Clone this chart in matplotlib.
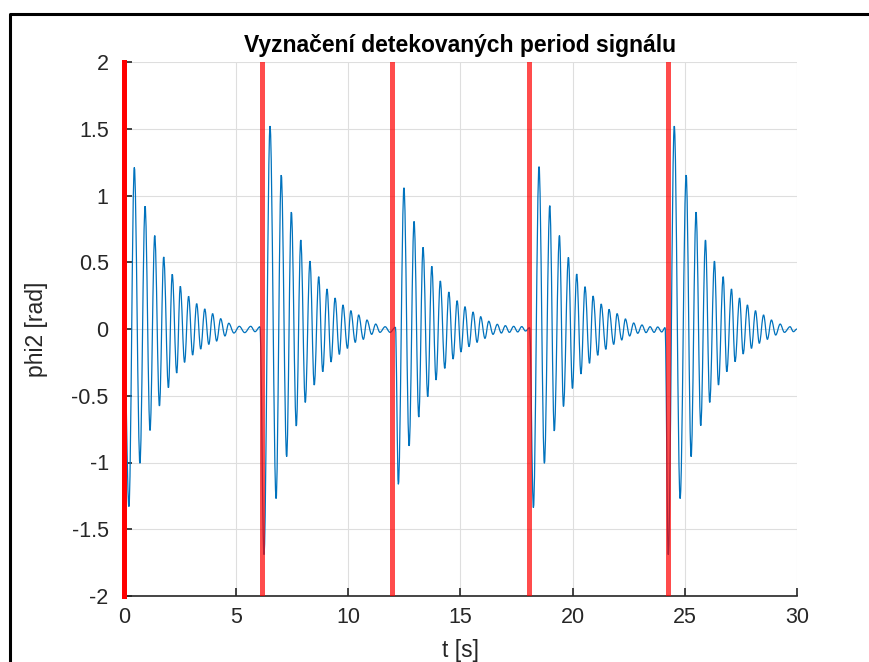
"""Vyznaceni detekovanych period signalu phi2 (tlumene kmity, 5 period)."""
import matplotlib

matplotlib.use("Agg")
import matplotlib.pyplot as plt
from matplotlib.lines import Line2D
from matplotlib.path import Path
from matplotlib.patches import PathPatch

plt.rcParams["font.family"] = ["Liberation Sans", "DejaVu Sans"]

# extremy signalu (cas [s], hodnota [rad]) pro kazdou periodu
seg1_t = [0.00, 0.22, 0.46, 0.71, 0.94, 1.16, 1.37, 1.58, 1.77, 1.98, 2.15, 2.35, 2.51,
          2.70, 2.88, 3.06, 3.24, 3.42, 3.60, 3.78, 3.95, 4.13, 4.31, 4.50, 4.67, 4.90,
          5.14, 5.38, 5.65, 5.84, 6.06]
seg1_v = [0.00, -1.33, 1.21, -1.006, 0.92, -0.76, 0.70, -0.577, 0.54, -0.44, 0.41, -0.33,
          0.32, -0.25, 0.245, -0.195, 0.19, -0.15, 0.15, -0.115, 0.115, -0.09, 0.077,
          -0.052, 0.043, -0.03, 0.02, -0.027, 0.02, -0.02, 0.017]

seg2_t = [6.24, 6.51, 6.78, 7.01, 7.25, 7.46, 7.68, 7.88, 8.08, 8.29, 8.48, 8.68, 8.86,
          9.05, 9.23, 9.41, 9.60, 9.76, 9.96, 10.11, 10.31, 10.46, 10.67, 10.83, 11.04,
          11.22, 11.41, 11.64, 11.86, 12.10]
seg2_v = [-1.69, 1.52, -1.27, 1.153, -0.956, 0.876, -0.727, 0.667, -0.55, 0.509, -0.42,
          0.392, -0.32, 0.30, -0.247, 0.232, -0.19, 0.18, -0.145, 0.137, -0.10, 0.105,
          -0.077, 0.067, -0.04, 0.037, -0.025, 0.017, -0.025, 0.013]

seg3_t = [12.23, 12.48, 12.71, 12.93, 13.14, 13.33, 13.54, 13.72, 13.91, 14.10, 14.30,
          14.48, 14.67, 14.85, 15.02, 15.20, 15.38, 15.56, 15.74, 15.90, 16.09, 16.26,
          16.45, 16.64, 16.82, 17.00, 17.18, 17.37, 17.55, 17.73, 17.90, 18.08]
seg3_v = [-1.163, 1.058, -0.876, 0.806, -0.66, 0.612, -0.507, 0.47, -0.382, 0.36, -0.295,
          0.277, -0.225, 0.212, -0.172, 0.167, -0.132, 0.127, -0.10, 0.092, -0.07, 0.058,
          -0.04, 0.035, -0.03, 0.025, -0.025, 0.02, -0.022, 0.018, -0.015, 0.01]

seg4_t = [18.25, 18.50, 18.74, 18.98, 19.18, 19.41, 19.59, 19.81, 19.99, 20.18, 20.37,
          20.55, 20.75, 20.91, 21.12, 21.27, 21.48, 21.62, 21.83, 21.98, 22.19, 22.35,
          22.54, 22.72, 22.90, 23.09, 23.27, 23.45, 23.63, 23.79, 23.97, 24.12]
seg4_v = [-1.338, 1.216, -1.006, 0.924, -0.764, 0.70, -0.58, 0.537, -0.445, 0.412, -0.337,
          0.317, -0.257, 0.247, -0.197, 0.187, -0.152, 0.147, -0.115, 0.115, -0.082, 0.075,
          -0.052, 0.045, -0.032, 0.03, -0.027, 0.017, -0.025, 0.015, -0.022, 0.01]

seg5_t = [24.26, 24.53, 24.79, 25.06, 25.28, 25.50, 25.71, 25.92, 26.11, 26.32, 26.50,
          26.71, 26.87, 27.08, 27.24, 27.44, 27.60, 27.79, 27.97, 28.15, 28.32, 28.51,
          28.68, 28.86, 29.05, 29.25, 29.44, 29.69, 29.84, 30.00]
seg5_v = [-1.69, 1.52, -1.27, 1.153, -0.956, 0.876, -0.724, 0.667, -0.55, 0.509, -0.42,
          0.392, -0.32, 0.30, -0.245, 0.232, -0.187, 0.18, -0.145, 0.137, -0.107, 0.105,
          -0.077, 0.067, -0.045, 0.037, -0.025, 0.017, -0.02, 0.0]

# zacatky detekovanych period [s]
period_starts = [0.0, 6.14, 11.93, 18.04, 24.24]

x_ticks = [0, 5, 10, 15, 20, 25, 30]
y_ticks = [-2, -1.5, -1, -0.5, 0, 0.5, 1, 1.5, 2]
y_ticklabels = ["-2", "-1.5", "-1", "-0.5", "0", "0.5", "1", "1.5", "2"]

BLUE = "#0072BD"
AX_COL = "#262626"


def kmity_path(t, v, k=0.3642):
    # pulvlny mezi sousednimi extremy jako kubicke Bezierovy krivky
    verts = [(t[0], v[0])]
    codes = [Path.MOVETO]
    for i in range(len(t) - 1):
        dt = t[i + 1] - t[i]
        verts += [(t[i] + k * dt, v[i]), (t[i + 1] - k * dt, v[i + 1]), (t[i + 1], v[i + 1])]
        codes += [Path.CURVE4] * 3
    return Path(verts, codes)


all_t = seg1_t + seg2_t + seg3_t + seg4_t + seg5_t
all_v = seg1_v + seg2_v + seg3_v + seg4_v + seg5_v

fig = plt.figure(figsize=(8.7, 6.62), dpi=100)
ax = fig.add_axes([124 / 870, 66 / 662, 673 / 870, 534 / 662])

ax.add_patch(PathPatch(kmity_path(all_t, all_v), fill=False, edgecolor=BLUE, lw=0.9, zorder=3))

for i, ts in enumerate(period_starts):
    if i == 0:
        ax.axvline(ts, color="#ff0000", lw=3.6, zorder=5, clip_on=False)
    else:
        ax.axvline(ts, color="#ff0000", lw=3.6, alpha=0.7, zorder=4)

ax.set_xlim(0, 30)
ax.set_ylim(-2, 2)
ax.set_xticks(x_ticks)
ax.set_yticks(y_ticks)
ax.set_yticklabels(y_ticklabels)
ax.grid(True, color="#dedede", lw=0.8)
ax.set_axisbelow(True)

for s in ["top", "right"]:
    ax.spines[s].set_visible(False)
for s in ["left", "bottom"]:
    ax.spines[s].set_color(AX_COL)
    ax.spines[s].set_linewidth(1.2)
ax.tick_params(direction="in", length=6, width=1.2, color=AX_COL, labelcolor=AX_COL,
               labelsize=15.5)
ax.tick_params(axis="x", pad=8)
ax.tick_params(axis="y", pad=11)

ax.set_xlabel("t [s]", fontsize=16.5, color=AX_COL, labelpad=8)
ax.set_ylabel("phi2 [rad]", fontsize=16.5, color=AX_COL, labelpad=17)
ax.set_title("Vyznačení detekovaných period signálu", fontsize=16.5, fontweight="bold",
             pad=7)

# ramecek okna
fig.add_artist(Line2D([10 / 870, 10 / 870, 1.0], [0.0, 1 - 14 / 662, 1 - 14 / 662],
                      color="black", lw=2.2, transform=fig.transFigure))

fig.savefig("out.png", dpi=100)
